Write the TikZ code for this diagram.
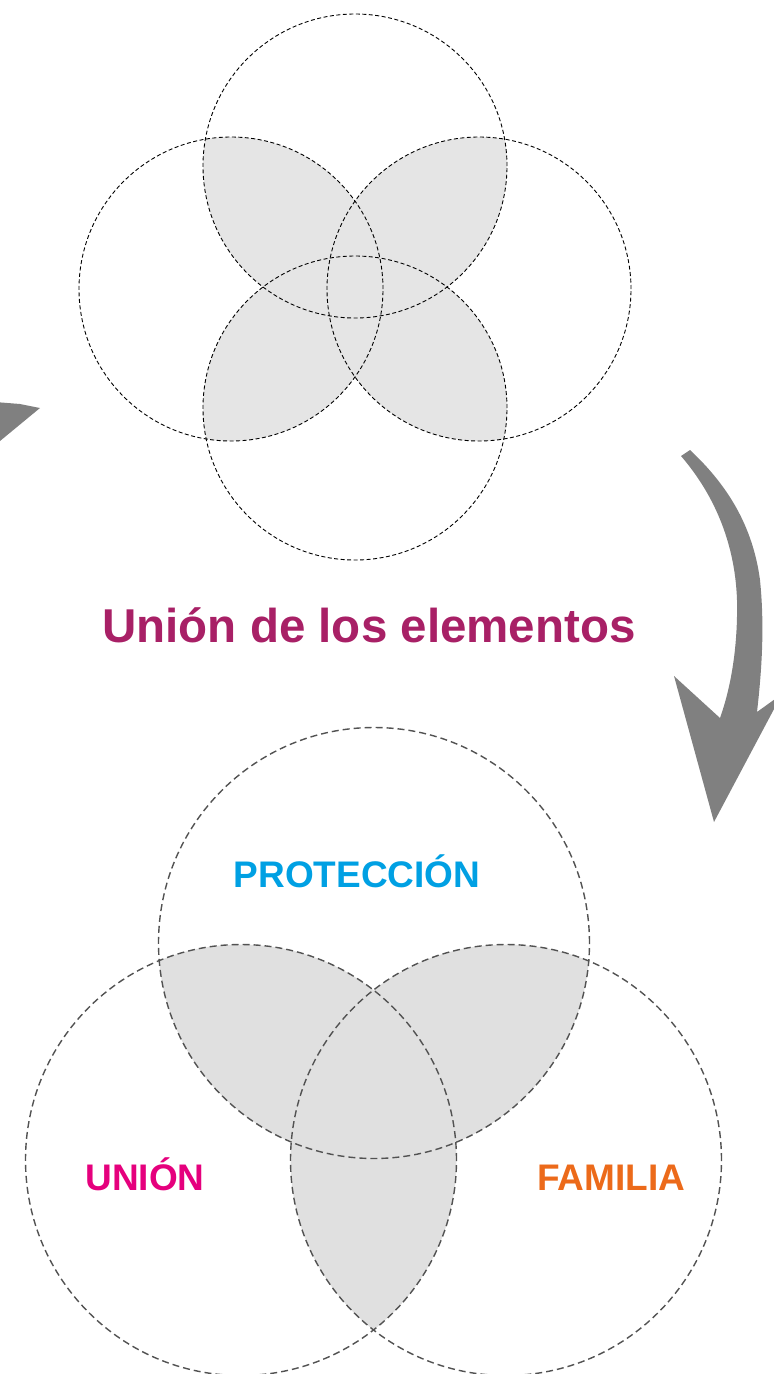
\documentclass[tikz,border=0pt]{standalone}
\usepackage{fontspec}
\setmainfont{Liberation Sans}
\definecolor{titlepurple}{RGB}{168,32,102}
\definecolor{protblue}{RGB}{0,160,227}
\definecolor{unionpink}{RGB}{229,0,125}
\definecolor{familiaorange}{RGB}{236,106,26}
\begin{document}
\begin{tikzpicture}[
  x=1pt, y=-1pt,
  smallring/.style={draw=black, line width=0.9pt, dash pattern=on 4pt off 2.5pt},
  bigring/.style={draw=black!68, line width=1.4pt, dash pattern=on 7pt off 4pt},
  smalloverlap/.style={fill=black!10},
  bigoverlap/.style={fill=black!12},
  vennlabel/.style={font={\fontsize{37}{44}\selectfont\bfseries}, anchor=base, inner sep=0pt},
  sketcharrow/.style={fill=black!50}
]
\path[use as bounding box] (0,0) rectangle (774,1374);
\clip (0,0) rectangle (774,1374);
\coordinate (s1) at (355,166);
\coordinate (s2) at (231,289);
\coordinate (s3) at (479,289);
\coordinate (s4) at (355,408);
\foreach \a/\b in {s1/s2,s1/s3,s1/s4,s2/s3,s2/s4,s3/s4}{
  \begin{scope}
    \clip (\a) circle[radius=152pt];
    \fill[smalloverlap] (\b) circle[radius=152pt];
  \end{scope}
}
\foreach \c in {s1,s2,s3,s4}
  \draw[smallring] (\c) circle[radius=152pt];
\coordinate (b1) at (374,943);
\coordinate (b2) at (241,1160);
\coordinate (b3) at (506,1160);
\foreach \a/\b in {b1/b2,b1/b3,b2/b3}{
  \begin{scope}
    \clip (\a) circle[radius=215.5pt];
    \fill[bigoverlap] (\b) circle[radius=215.5pt];
  \end{scope}
}
\foreach \c in {b1,b2,b3}
  \draw[bigring] (\c) circle[radius=215.5pt];
\node[font={\fontsize{47.5}{56}\selectfont\bfseries}, text=titlepurple, anchor=base, inner sep=0pt] (title) at (369,642) {Unión de los elementos};
\node[vennlabel, text=protblue] (proteccion) at (357,887) {PROTECCIÓN};
\node[vennlabel, text=unionpink] (union) at (145,1190) {UNIÓN};
\node[vennlabel, text=familiaorange] (familia) at (611,1190) {FAMILIA};
\fill[sketcharrow] (681,456) .. controls (712,492) and (735,540) .. (737,600)
  .. controls (738,650) and (730,690) .. (720,718) -- (674,676) -- (714,822)
  -- (782,694) -- (757,712) .. controls (763,660) and (764,620) .. (760,580)
  .. controls (752,520) and (722,480) .. (690,450) -- cycle;
\fill[sketcharrow] (-5,402) -- (20,404) -- (40,408) -- (0,441) -- (-5,441) -- cycle;
\end{tikzpicture}
\end{document}
